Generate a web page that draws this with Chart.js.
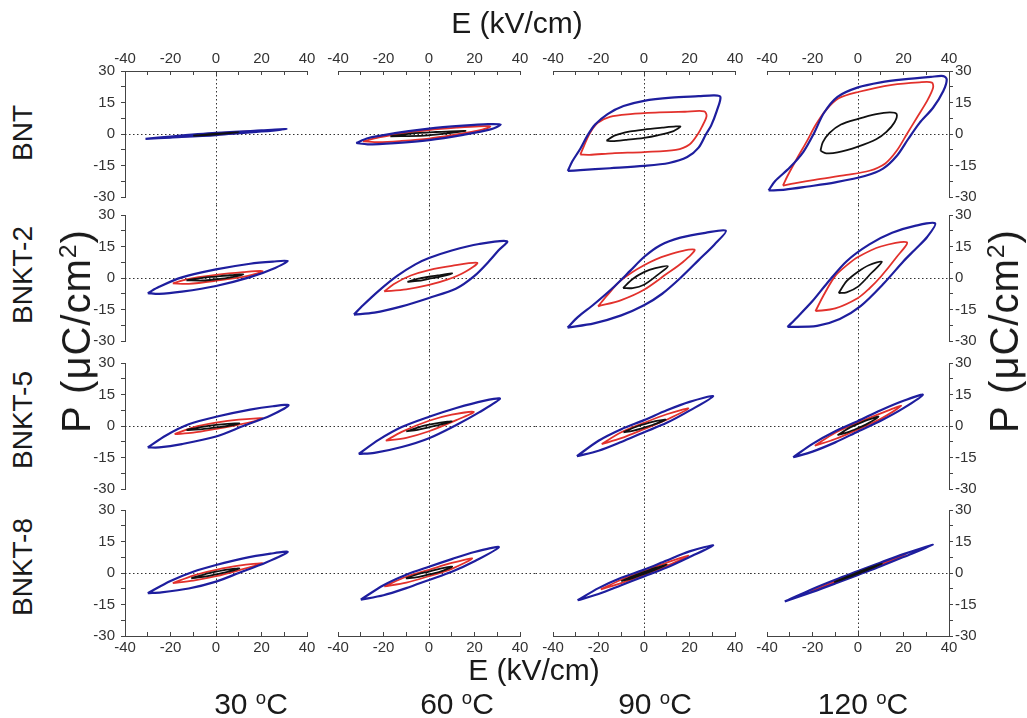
<!DOCTYPE html>
<html>
<head>
<meta charset="utf-8">
<script src="https://cdn.jsdelivr.net/npm/chart.js@4.4.1/dist/chart.umd.min.js"></script>
<style>
  body { margin: 0; background: #fff; }
  #fig { position: relative; width: 1027px; height: 718px; overflow: hidden;
         font-family: "Liberation Sans", Arial, sans-serif; color: #1a1a1a; }
  #fig canvas { position: absolute; }
  .lbl { position: absolute; white-space: nowrap; transform: translate(-50%, -50%); line-height: 1; }
  .rot { transform: translate(-50%, -50%) rotate(-90deg); }
  sup { font-size: 0.62em; vertical-align: 0.55em; line-height: 0; }
</style>
</head>
<body>
<div id="fig"></div>
<script>
// P-E hysteresis loops, rows = composition, columns = temperature
const compositions = ["BNT", "BNKT-2", "BNKT-5", "BNKT-8"];
const temperatures = [30, 60, 90, 120];
const fieldTicks = [-40, -20, 0, 20, 40];
const polTicks = [-30, -15, 0, 15, 30];

// each panel: [blue loop, red loop, black loop], points as [E, P]
const bnt30 = [
  [[-31,-2.3],[-20,-1.2],[0,0.5],[20,1.7],[31,2.3],[20,1.2],[0,-0.5],[-20,-1.7],[-31,-2.3]],
  [[-20,-1.5],[0,0.3],[20,1.5],[0,-0.3],[-20,-1.5]],
  [[-10,-0.8],[0,0.15],[10,0.8],[0,-0.15],[-10,-0.8]]
];
const bnt60 = [
  [[-32,-4.3],[-27,-2.0],[-15,0.4],[0,2.6],[15,4.0],[26,4.7],[31.5,4.5],[27,2.2],[15,-0.4],[0,-2.9],[-15,-4.3],[-27,-4.9],[-32,-4.3]],
  [[-29,-3.5],[-22,-1.6],[-10,0.6],[0,1.9],[12,3.0],[22,3.7],[27,3.6],[22,1.7],[10,-0.6],[0,-2.2],[-12,-3.3],[-22,-3.9],[-29,-3.5]],
  [[-17,-1.1],[-8,0.2],[2,0.9],[16,1.5],[8,0.3],[-2,-0.8],[-17,-1.1]]
];
const bnt90 = [
  [[-33.5,-17.6],[-31.5,-13],[-28,-7],[-25,-1],[-21.5,4.5],[-16,9.5],[-9,13.3],[0,15.8],[12,17.3],[24,18],[31,18.4],[33.6,17.6],[32,11],[29.5,4],[27.3,0],[24,-6.5],[19,-11],[11,-13.8],[0,-15.2],[-15,-16.3],[-28,-17.2],[-33.5,-17.6]],
  [[-28,-9.8],[-26.5,-6],[-24,0],[-20.5,5.2],[-15,8.2],[-6,9.5],[5,10.2],[18,10.6],[26.5,10.8],[27.5,8.5],[25.5,3.5],[23.7,0],[20,-5],[14,-7.6],[0,-8.6],[-14,-9.2],[-24,-9.9],[-28,-9.8]],
  [[-16.5,-3.2],[-13,-0.8],[-6,1.2],[0,2.1],[8,3.0],[14,3.6],[16,3.5],[13,1.4],[6,-0.6],[0,-1.8],[-8,-2.8],[-14,-3.4],[-16.5,-3.2]]
];
const bnt120 = [
  [[-39.3,-26.9],[-36.5,-22.5],[-30,-16],[-24,-8.5],[-19.5,0],[-15,10],[-9,17.7],[0,22.2],[10,24.6],[20,26],[32,27.2],[37.5,27.6],[39,26],[37.5,20.5],[33,12.5],[27,5.2],[22,-2.5],[17,-10.5],[11,-16.5],[3,-20],[-10,-23],[-22,-25],[-32,-26.5],[-39.3,-26.9]],
  [[-33,-24.6],[-31,-20],[-27,-12],[-22.5,-3.5],[-18.5,4.5],[-14,11.5],[-8.5,17],[0,20],[15,23.4],[27,24.6],[32.5,24.5],[33,22],[30.5,16],[26,8],[21.5,0],[17,-8],[12,-14],[5,-17.5],[-5,-19.5],[-19,-21.8],[-28,-23.5],[-33,-24.6]],
  [[-16.5,-8],[-15.5,-4],[-12.5,0.5],[-7.5,4.5],[0,7.2],[8,9.5],[14,10.3],[17,9.5],[16,5.5],[12.5,1],[8,-2.5],[0,-6],[-9,-8.8],[-14,-9.2],[-16.5,-8]]
];

const bnkt2_30 = [
  [[-30,-7.2],[-25,-4.2],[-15,0.3],[0,4.1],[15,6.8],[25,7.8],[31.5,8.1],[26,4.8],[15,0.4],[0,-3.8],[-15,-6.5],[-25,-7.6],[-30,-7.2]],
  [[-19,-2.6],[-13,-0.6],[0,1.5],[12,2.8],[20.5,3.3],[14,1],[0,-1.3],[-12,-2.8],[-19,-2.6]],
  [[-13,-1.1],[-6,0.1],[0,0.7],[6,1.3],[12,1.7],[6,0.2],[0,-0.6],[-6,-1.2],[-13,-1.1]]
];
const bnkt2_60 = [
  [[-33,-17.4],[-29,-13],[-22,-6],[-14,1],[-6,6.5],[0,9.5],[10,13.1],[22,16.2],[34.3,17.5],[30.5,13.1],[26,7.5],[20,1],[12,-5],[0,-9.5],[-12,-13.5],[-24,-16.5],[-33,-17.4]],
  [[-19.7,-6.4],[-15,-2.6],[-8,1.2],[0,3.8],[10,5.8],[21.2,7.2],[16,3],[8,-0.8],[0,-3.3],[-10,-5.4],[-19.7,-6.4]],
  [[-9.5,-1.8],[-4,-0.2],[0,0.6],[5,1.4],[10.2,2.2],[5,0.6],[0,-0.4],[-5,-1.4],[-9.5,-1.8]]
];
const bnkt2_90 = [
  [[-33.6,-23.6],[-29,-18.5],[-22,-12.5],[-14,-5],[-6,3.5],[0,10],[7,15.5],[16,19.2],[27,21.5],[36,22.5],[31,16],[24,8.5],[16,0],[8,-7.5],[0,-13],[-10,-17.8],[-22,-21.6],[-33.6,-23.6]],
  [[-20.2,-13.5],[-16,-8],[-10,-1],[0,6.1],[10,10.8],[22.2,13.5],[17,7.5],[10,2],[0,-5.6],[-10,-10.5],[-20.2,-13.5]],
  [[-9.2,-4.8],[-5,-0.5],[0,2.8],[5,4.7],[10.5,5.6],[6,1.5],[0,-3.2],[-5,-4.8],[-9.2,-4.8]]
];
const bnkt2_120 = [
  [[-31,-23.3],[-27,-19],[-20,-11],[-13.6,-2.5],[-5,8],[5,16],[15,21.5],[25,24.8],[33.9,26],[30.3,19.4],[25,13.5],[20,8],[11.4,-2.5],[1,-13.5],[-8,-19.5],[-18,-22.8],[-31,-23.3]],
  [[-18.7,-15.8],[-15,-8],[-10,1],[-5,6],[0,10],[10,15],[21.5,17],[17,10],[10,0.6],[5,-5],[0,-9.5],[-10,-14.5],[-18.7,-15.8]],
  [[-8.5,-7.2],[-5,-1.5],[0,3],[5,6.2],[10.5,7.7],[6,2.5],[0,-4.1],[-5,-6.8],[-8.5,-7.2]]
];

const bnkt5_30 = [
  [[-30,-10.2],[-22,-4.5],[-12,0.8],[0,4.4],[15,7.8],[25,9.4],[31.9,9.9],[24,5],[12,0],[0,-5],[-15,-8.6],[-25,-10.2],[-30,-10.2]],
  [[-18.2,-3.9],[-10,-0.6],[0,1.6],[10,3],[20.5,3.6],[10,0.6],[0,-1.4],[-10,-3.2],[-18.2,-3.9]],
  [[-13,-1.9],[-6,-0.4],[0,0.5],[5,1.0],[10.3,1.2],[5,0],[0,-0.7],[-6,-1.5],[-13,-1.9]]
];
const bnkt5_60 = [
  [[-30.9,-13.3],[-22,-6.5],[-12,-0.5],[0,4.4],[12,8.6],[24,12],[31.2,13],[22,6.5],[12,0.5],[0,-5.8],[-12,-10],[-24,-12.8],[-30.9,-13.3]],
  [[-19,-7],[-12,-2.8],[0,2.5],[10,5.4],[19.7,6.7],[12,2.8],[0,-2.5],[-10,-5.6],[-19,-7]],
  [[-10,-2.6],[-5,-0.8],[0,0.6],[5,1.6],[10,2.2],[5,0.6],[0,-0.6],[-5,-1.8],[-10,-2.6]]
];
const bnkt5_90 = [
  [[-29.5,-14.4],[-20,-7],[-10,-1.5],[0,2.8],[10,7.5],[20,11.5],[30.4,14.2],[20,7.3],[10,1.5],[0,-3],[-10,-7.6],[-20,-11.8],[-29.5,-14.4]],
  [[-18.6,-8.6],[-10,-3],[0,1.5],[10,5.6],[19.5,8.3],[10,3],[0,-1.5],[-10,-5.8],[-18.6,-8.6]],
  [[-9,-3],[-4,-0.6],[0,0.8],[5,2.3],[9.5,3],[4,0.6],[0,-0.8],[-5,-2.3],[-9,-3]]
];
const bnkt5_120 = [
  [[-28.5,-14.9],[-20,-8.5],[-10,-2.5],[0,2.4],[10,7.5],[20,12],[28.5,14.9],[20,8.5],[10,2.5],[0,-2.6],[-10,-7.8],[-20,-12.2],[-28.5,-14.9]],
  [[-19,-9.4],[-10,-3.2],[0,1.6],[10,6],[19,9.6],[10,3.4],[0,-1.6],[-10,-6.2],[-19,-9.4]],
  [[-9,-4.4],[-4,-1],[0,1],[4,2.8],[9,4.4],[4,1],[0,-1],[-4,-2.8],[-9,-4.4]]
];

const bnkt8_30 = [
  [[-30,-9.6],[-20,-3.8],[-10,0.6],[0,3.8],[12,7],[24,9.2],[31.5,10],[22,5],[10,0],[0,-4.1],[-12,-7.4],[-24,-9.2],[-30,-9.6]],
  [[-19,-4.8],[-10,-1.2],[0,1.5],[10,3.5],[20.5,4.6],[10,1.3],[0,-1.5],[-10,-3.6],[-19,-4.8]],
  [[-10.9,-2.5],[-5,-0.6],[0,0.6],[5,1.6],[10.3,2.2],[5,0.5],[0,-0.6],[-5,-1.7],[-10.9,-2.5]]
];
const bnkt8_60 = [
  [[-30,-12.7],[-20,-5.8],[-10,-0.8],[0,3],[10,6.6],[20,10],[30.7,12.3],[20,5.6],[10,0.6],[0,-3.3],[-10,-7.2],[-20,-10.6],[-30,-12.7]],
  [[-19.7,-6.4],[-10,-1.8],[0,1.5],[10,4.8],[19,6.9],[10,2],[0,-1.5],[-10,-4.6],[-19.7,-6.4]],
  [[-10.2,-2.6],[-5,-0.6],[0,0.7],[5,2.1],[10.2,3],[5,0.7],[0,-0.7],[-5,-2],[-10.2,-2.6]]
];
const bnkt8_90 = [
  [[-29.2,-13],[-20,-7.2],[-10,-2.3],[0,1.6],[10,6],[20,10.3],[30.4,13.1],[20,7.6],[10,2.6],[0,-1.6],[-10,-5.8],[-20,-10],[-29.2,-13]],
  [[-19,-7.8],[-10,-3.2],[0,0.8],[10,4.9],[19.5,8.2],[10,3.4],[0,-0.8],[-10,-4.8],[-19,-7.8]],
  [[-10,-3.9],[-5,-1.6],[0,0.4],[5,2.4],[10,4],[5,1.6],[0,-0.4],[-5,-2.4],[-10,-3.9]]
];
const bnkt8_120 = [
  [[-32.2,-13.6],[-20,-7.6],[-10,-3.2],[0,0.9],[10,5],[20,9],[32.9,13.4],[20,7.6],[10,3.2],[0,-0.9],[-10,-5],[-20,-9],[-32.2,-13.6]],
  [[-21,-8.8],[-10,-3.9],[0,0.5],[10,4.6],[21,8.8],[10,3.9],[0,-0.5],[-10,-4.6],[-21,-8.8]],
  [[-10.5,-4.4],[0,0.3],[10.5,4.4],[0,-0.3],[-10.5,-4.4]]
];

const panels = [
  [bnt30, bnt60, bnt90, bnt120],
  [bnkt2_30, bnkt2_60, bnkt2_90, bnkt2_120],
  [bnkt5_30, bnkt5_60, bnkt5_90, bnkt5_120],
  [bnkt8_30, bnkt8_60, bnkt8_90, bnkt8_120]
];

// grid geometry (plot areas in page pixels)
const colLeft = [125, 338, 553, 767];
const rowTop = [71, 215, 363, 510];
const plotW = 182, plotH = 126, M = 40;
const loopColors = ["#1e1e9e", "#e2312c", "#111111"];
const loopWidths = [2.2, 1.8, 1.8];
const loopOrder = [1, 2, 0];   // black drawn last, on top
const axisColor = "#444";
const tickFont = { family: '"Liberation Sans", Arial, sans-serif', size: 15 };

const fig = document.getElementById("fig");

// dotted zero lines, stretched into the gaps so they run across the whole grid
const zeroLines = {
  id: "zeroLines",
  beforeDatasetsDraw(chart, args, opts) {
    const { ctx, chartArea: a, scales: { x, y } } = chart;
    const px = Math.round(x.getPixelForValue(0)) + 0.5;
    const py = Math.round(y.getPixelForValue(0)) + 0.5;
    ctx.save();
    ctx.strokeStyle = "#333";
    ctx.lineWidth = 1;
    ctx.setLineDash([1.5, 2.5]);
    ctx.beginPath();
    ctx.moveTo(a.left - opts.left, py);
    ctx.lineTo(a.right + opts.right, py);
    ctx.moveTo(px, a.top - opts.top);
    ctx.lineTo(px, a.bottom + opts.bottom);
    ctx.stroke();
    ctx.restore();
  }
};

function addLabel(html, x, y, size, rotate) {
  const d = document.createElement("div");
  d.className = rotate ? "lbl rot" : "lbl";
  d.style.left = x + "px";
  d.style.top = y + "px";
  d.style.fontSize = size + "px";
  d.innerHTML = html;
  fig.appendChild(d);
  return d;
}

function makePanel(r, c) {
  const cv = document.createElement("canvas");
  cv.width = plotW + 2 * M;
  cv.height = plotH + 2 * M;
  cv.style.left = (colLeft[c] - M) + "px";
  cv.style.top = (rowTop[r] - M) + "px";
  fig.appendChild(cv);

  const top = r === 0, bottom = r === 3, left = c === 0, right = c === 3;
  const gapL = c > 0 ? (colLeft[c] - colLeft[c - 1] - plotW) / 2 + 1 : 0;
  const gapR = c < 3 ? (colLeft[c + 1] - colLeft[c] - plotW) / 2 + 1 : 0;
  const gapT = r > 0 ? (rowTop[r] - rowTop[r - 1] - plotH) / 2 + 1 : 0;
  const gapB = r < 3 ? (rowTop[r + 1] - rowTop[r] - plotH) / 2 + 1 : 0;

  const datasets = panels[r][c].map((loop, i) => ({
    data: loop.map(([e, p]) => ({ x: e, y: p })),
    borderColor: loopColors[i],
    borderWidth: loopWidths[i],
    order: loopOrder[i],
    showLine: true,
    pointRadius: 0,
    tension: 0.3,
    fill: false
  }));

  new Chart(cv, {
    type: "scatter",
    data: { datasets },
    options: {
      responsive: false,
      animation: false,
      devicePixelRatio: 1,
      events: [],
      layout: { padding: { left: left ? 0 : M, right: right ? 0 : M, top: top ? 0 : M, bottom: bottom ? 0 : M } },
      plugins: {
        legend: { display: false },
        tooltip: { enabled: false },
        zeroLines: { left: gapL, right: gapR, top: gapT, bottom: gapB }
      },
      scales: {
        x: {
          type: "linear",
          position: top ? "top" : "bottom",
          display: top || bottom,
          min: -40, max: 40,
          afterFit: (s) => { if (top || bottom) s.height = M; },
          border: { display: true, color: axisColor, width: 1 },
          grid: { drawOnChartArea: false, tickLength: -4, color: axisColor },
          ticks: {
            stepSize: 10, autoSkip: false, maxRotation: 0, padding: 7,
            color: "#333", font: tickFont,
            callback: (v) => (fieldTicks.includes(v) ? String(v) : "")
          }
        },
        y: {
          type: "linear",
          position: right ? "right" : "left",
          display: left || right,
          min: -30, max: 30,
          afterFit: (s) => { if (left || right) s.width = M; },
          border: { display: true, color: axisColor, width: 1 },
          grid: { drawOnChartArea: false, tickLength: 4, color: axisColor },
          ticks: {
            stepSize: 7.5, autoSkip: false, padding: right ? 2 : 6,
            color: "#333", font: tickFont,
            callback: (v) => (polTicks.includes(v) ? String(v) : "")
          }
        }
      }
    },
    plugins: [zeroLines]
  });
}

for (let r = 0; r < 4; r++) {
  for (let c = 0; c < 4; c++) makePanel(r, c);
}

// titles and row / column captions
addLabel("E (kV/cm)", 517, 23, 30);
addLabel("E (kV/cm)", 534, 670, 30);
const tempX = [251, 457, 655, 863];
temperatures.forEach((t, i) => addLabel(t + " <sup>o</sup>C", tempX[i], 704, 30));
const rowY = [133, 275, 420, 567];
compositions.forEach((n, i) => addLabel(n, 23, rowY[i], 28, true));
addLabel("P (&mu;C/cm<sup>2</sup>)", 76, 331, 40, true).style.letterSpacing = "1px";
addLabel("P (&mu;C/cm<sup>2</sup>)", 1004, 331, 40, true).style.letterSpacing = "1px";
</script>
</body>
</html>
